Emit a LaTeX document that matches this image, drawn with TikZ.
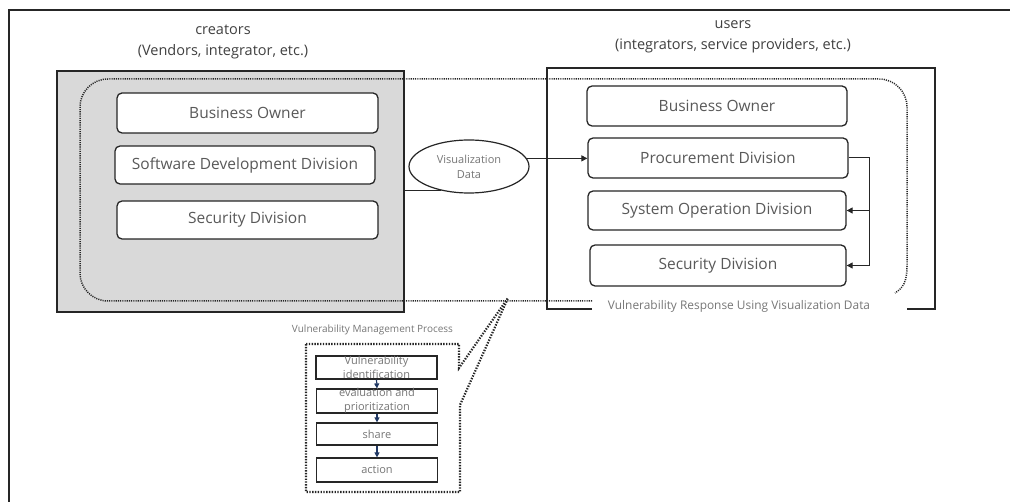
\documentclass[tikz,border=0pt]{standalone}
\usepackage{fontspec}
\setmainfont{Open Sans}
\usetikzlibrary{shapes.geometric,arrows.meta}
\definecolor{txt}{HTML}{595959}
\definecolor{ttl}{HTML}{404040}
\definecolor{lite}{HTML}{767676}
\definecolor{boxgray}{HTML}{D9D9D9}
\definecolor{navy}{HTML}{203864}
\definecolor{edge}{HTML}{262626}
\begin{document}
\begin{tikzpicture}[x=1pt,y=-1pt,
  unit/.style={draw=edge, line width=1.3pt, rounded corners=5pt, fill=white, text=txt,
    font=\fontsize{15.5}{18}\selectfont, inner sep=0pt},
  title/.style={align=center, text=ttl, font=\fontsize{14.5}{21}\selectfont, inner sep=0pt},
  pstep/.style={draw=edge, line width=1.2pt, fill=white, minimum width=121pt, inner sep=0pt},
  ptext/.style={align=center, text=lite, font=\fontsize{11}{14}\selectfont, inner sep=0pt},
  conn/.style={draw=edge, line width=1pt},
  arr/.style={conn, -{Triangle[length=6pt,width=6pt]}},
  parr/.style={draw=navy, line width=1.2pt, -{Triangle[length=5pt,width=5pt]}},
  bigdots/.style={draw=edge, line width=1.5pt, dash pattern=on 1.1pt off 1.1pt},
  calldots/.style={draw=edge, line width=2.2pt, dash pattern=on 1.4pt off 1.4pt}
]
\useasboundingbox (0,0) rectangle (1010,502);
% outer frame (cropped)
\draw[line width=1.2pt, edge] (9,502) -- (9,10) -- (1010,10);

% titles
\node[title] (tcre) at (223,42) {creators\\(Vendors, integrator, etc.)};
\node[title] (tuse) at (733,37) {users\\(integrators, service providers, etc.)};

% creators group
\node[draw=edge, line width=1.5pt, fill=boxgray, minimum width=347pt, minimum height=241pt, inner sep=0pt] (lgroup) at (230.5,191.5) {};

% users group (open at bottom for label)
\draw[line width=2pt, edge] (592,309) -- (547,309) -- (547,68) -- (935,68) -- (935,309) -- (907,309);

% dotted region
\draw[bigdots, rounded corners=28pt] (592,301) -- (80,301) -- (80,79) -- (907,79) -- (907,266);
\draw[bigdots] (907,266) .. controls (907,282) and (903,288) .. (895,293);

% left units
\node[unit, minimum width=261pt, minimum height=40pt] (lbo) at (247.5,113) {Business Owner};
\node[unit, minimum width=260pt, minimum height=38pt] (lsd) at (245,165) {Software Development Division};
\node[unit, minimum width=261pt, minimum height=38pt] (lsec) at (247.5,220) {Security Division};

% right units
\node[unit, minimum width=260pt, minimum height=40pt] (rbo) at (717,106) {Business Owner};
\node[unit, minimum width=260pt, minimum height=40pt] (rproc) at (718,158) {Procurement Division};
\node[unit, minimum width=258pt, minimum height=39pt] (rsys) at (717,210.5) {System Operation Division};
\node[unit, minimum width=256pt, minimum height=41pt] (rsec) at (718,265.5) {Security Division};

% visualization data
\node[ellipse, draw=edge, line width=1.2pt, fill=white, minimum width=120pt, minimum height=53pt, inner sep=0pt,
  align=center, text=lite, font=\fontsize{11}{15}\selectfont] (vis) at (469,166.5) {Visualization\\Data};
\draw[conn] (vis.221) -- (vis.221 -| lgroup.east);
\draw[arr] (vis.8.5) -- (vis.8.5 -| rproc.west);
\draw[arr] (rproc.east) -- ++(21,0) |- (rsys.east);
\draw[arr] (rproc.east) -- ++(21,0) |- (rsec.east);

% bottom label
\node[text=lite, font=\fontsize{11.9}{14}\selectfont, inner sep=0pt] (vlab) at (739,306) {Vulnerability Response Using Visualization Data};

% callout
\draw[calldots] (306,344) -- (459,344) -- (459,368) -- (508,298) -- (460,405) -- (460,492) -- (306,492) -- cycle;
\node[text=lite, font=\fontsize{10}{12}\selectfont, inner sep=0pt] (vmp) at (372.5,330) {Vulnerability Management Process};

\node[pstep, minimum height=23pt, label={[ptext]center:Vulnerability\\identification}] (p1) at (376.5,367.5) {};
\node[pstep, minimum height=24pt, label={[ptext]center:evaluation and\\prioritization}] (p2) at (377,401) {};
\node[pstep, minimum height=22pt, label={[ptext]center:share}] (p3) at (377,434) {};
\node[pstep, minimum height=24pt, label={[ptext]center:action}] (p4) at (377,470) {};
\draw[parr] (p1.south) -- (p2.north);
\draw[parr] (p2.south) -- (p3.north);
\draw[parr] (p3.south) -- (p4.north);
\end{tikzpicture}
\end{document}
